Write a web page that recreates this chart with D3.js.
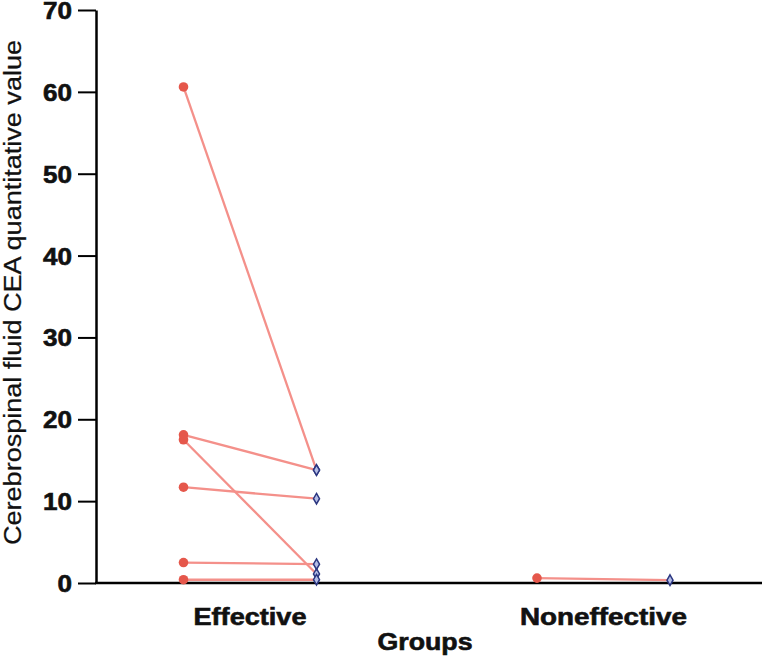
<!DOCTYPE html>
<html><head><meta charset="utf-8">
<script src="https://cdn.jsdelivr.net/npm/d3@7"></script>
<style>
html,body{margin:0;padding:0;background:#fff;}
text{font-family:"Liberation Sans",Arial,sans-serif;}
</style></head>
<body><svg id="c" width="762" height="658"></svg>
<script>
const groups = ["Effective", "Noneffective"];
const phases = ["Before", "After"];
const effectiveBefore = [60.6, 18.1, 17.5, 11.7, 2.5, 0.4];
const effectiveAfter  = [13.8, 13.8, 1.1, 10.3, 2.3, 0.4];
const noneffectiveBefore = [0.6];
const noneffectiveAfter  = [0.35];
const yTicks = [0, 10, 20, 30, 40, 50, 60, 70];

const svg = d3.select("#c");
const plot = {left: 96, right: 762, top: 10, bottom: 583};

const y = d3.scaleLinear().domain([0, 70]).range([plot.bottom, plot.top]);
const xG = d3.scalePoint().domain(groups).range([250, 603.5]);
const xP = d3.scalePoint().domain(phases).range([-66.5, 66.5]);

const pairs = [];
effectiveBefore.forEach((v, i) => pairs.push({g: "Effective", b: v, a: effectiveAfter[i]}));
noneffectiveBefore.forEach((v, i) => pairs.push({g: "Noneffective", b: v, a: noneffectiveAfter[i]}));

const boldText = sel => sel.attr("font-size", 23).attr("font-weight", "bold").attr("fill", "#111")
  .attr("stroke", "#111").attr("stroke-width", 0.6);

// axes
const yAxis = d3.axisLeft(y).tickValues(yTicks).tickSize(18).tickPadding(6).tickSizeOuter(0);
const gy = svg.append("g").attr("transform", `translate(${plot.left},0)`).call(yAxis);
gy.select(".domain").attr("stroke", "#000").attr("stroke-width", 2.5);
gy.selectAll(".tick line").attr("stroke", "#000").attr("stroke-width", 2);
gy.selectAll(".tick text").call(boldText)
  .attr("dy", "0.37em")
  .each(function(d){ const s = String(d); d3.select(this).attr("textLength", 14.5 * s.length).attr("lengthAdjust", "spacingAndGlyphs"); });

svg.append("line").attr("x1", plot.left - 1).attr("x2", plot.right)
  .attr("y1", plot.bottom).attr("y2", plot.bottom)
  .attr("stroke", "#000").attr("stroke-width", 2.5);

// group labels
const glen = {"Effective": 113, "Noneffective": 167};
svg.selectAll(".glab").data(groups).join("text")
  .attr("x", d => xG(d)).attr("y", 625)
  .attr("text-anchor", "middle").call(boldText)
  .attr("textLength", d => glen[d]).attr("lengthAdjust", "spacingAndGlyphs")
  .text(d => d);

svg.append("text").attr("x", 425).attr("y", 650).attr("text-anchor", "middle")
  .call(boldText)
  .attr("textLength", 95).attr("lengthAdjust", "spacingAndGlyphs").text("Groups");

svg.append("text").attr("transform", `translate(21,${(40 + 545) / 2}) rotate(-90)`)
  .attr("text-anchor", "middle").attr("font-size", 23).attr("fill", "#111")
  .attr("stroke", "#111").attr("stroke-width", 0.25)
  .attr("textLength", 505).attr("lengthAdjust", "spacingAndGlyphs")
  .text("Cerebrospinal fluid CEA quantitative value");

// lines
svg.selectAll(".pair").data(pairs).join("line")
  .attr("x1", d => xG(d.g) + xP("Before")).attr("y1", d => y(d.b))
  .attr("x2", d => xG(d.g) + xP("After")).attr("y2", d => y(d.a))
  .attr("stroke", "#f4908a").attr("stroke-width", 2.3);

// before points
svg.selectAll(".bpt").data(pairs).join("circle")
  .attr("cx", d => xG(d.g) + xP("Before")).attr("cy", d => y(d.b)).attr("r", 4.8)
  .attr("fill", "#e5574b");

// after points (diamonds)
const diamond = d3.symbol().type(d3.symbolDiamond).size(32);
svg.selectAll(".apt").data(pairs).join("path")
  .attr("d", diamond)
  .attr("transform", d => `translate(${xG(d.g) + xP("After")},${y(d.a)})`)
  .attr("fill", "#b4bde6").attr("stroke", "#2b3680").attr("stroke-width", 1.5);
</script></body></html>
